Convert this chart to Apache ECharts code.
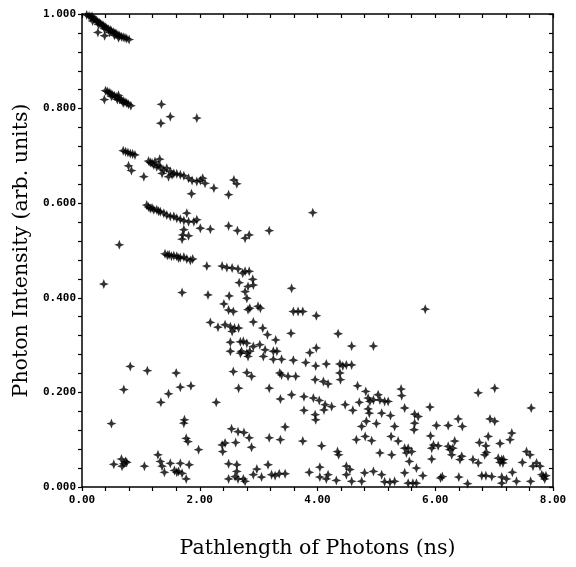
<!DOCTYPE html>
<html>
<head>
<meta charset="utf-8">
<script src="https://cdn.jsdelivr.net/npm/echarts@6/dist/echarts.min.js"></script>
<style>html,body{margin:0;padding:0;background:#fff}#c{width:576px;height:567px}</style>
</head>
<body>
<div id="c"></div>
<script>
// Axis settings / labels
const xTitle = "Pathlength of Photons (ns)";
const yTitle = "Photon Intensity (arb. units)";
const xRange = [0, 8];
const yRange = [0, 1];

// Data clusters: [pathlength (ns), intensity]
const band1 = [[0.08,0.998],[0.12,0.996],[0.15,0.993],[0.17,0.995],[0.18,0.985],[0.20,0.990],[0.22,0.988],[0.25,0.986],[0.27,0.983],[0.28,0.978],[0.30,0.981],[0.32,0.979],[0.35,0.976],[0.37,0.975],[0.38,0.969],[0.40,0.972],[0.42,0.970],[0.45,0.968],[0.47,0.961],[0.48,0.966],[0.50,0.964],[0.53,0.962],[0.55,0.955],[0.56,0.960],[0.58,0.958],[0.61,0.956],[0.62,0.950],[0.64,0.954],[0.67,0.952],[0.70,0.951],[0.73,0.950],[0.76,0.948],[0.80,0.946],[0.27,0.961],[0.385,0.954]];
const band2 = [[0.40,0.838],[0.43,0.836],[0.46,0.834],[0.49,0.832],[0.50,0.826],[0.52,0.829],[0.55,0.827],[0.58,0.825],[0.60,0.819],[0.61,0.823],[0.62,0.828],[0.64,0.820],[0.67,0.818],[0.70,0.816],[0.70,0.812],[0.73,0.814],[0.76,0.812],[0.79,0.809],[0.83,0.806],[0.38,0.819],[1.35,0.809],[1.50,0.783],[1.34,0.769],[1.95,0.780]];
const band3 = [[0.70,0.711],[0.74,0.709],[0.78,0.707],[0.82,0.705],[0.86,0.704],[0.90,0.702],[0.79,0.679],[0.84,0.669],[1.05,0.656]];
const band4 = [[1.13,0.689],[1.16,0.686],[1.19,0.685],[1.22,0.681],[1.24,0.688],[1.27,0.677],[1.30,0.680],[1.32,0.693],[1.33,0.676],[1.36,0.663],[1.39,0.670],[1.44,0.674],[1.47,0.656],[1.50,0.667],[1.53,0.660],[1.56,0.663],[1.61,0.662],[1.67,0.660],[1.73,0.658],[1.81,0.653],[1.87,0.648],[1.95,0.646],[2.01,0.648],[2.05,0.653],[2.09,0.642],[2.24,0.632],[1.86,0.620],[2.49,0.618],[2.58,0.649],[2.63,0.641]];
const band5 = [[1.10,0.596],[1.13,0.592],[1.16,0.589],[1.19,0.590],[1.22,0.586],[1.27,0.586],[1.30,0.583],[1.33,0.582],[1.39,0.579],[1.44,0.575],[1.50,0.572],[1.56,0.572],[1.61,0.568],[1.67,0.566],[1.73,0.563],[1.81,0.561],[1.90,0.561],[1.95,0.565],[1.78,0.579],[2.01,0.547],[2.18,0.545],[1.73,0.544],[1.71,0.533],[1.70,0.524],[1.81,0.531],[2.49,0.552],[2.64,0.542],[2.77,0.526],[2.84,0.533],[3.18,0.542],[0.634,0.512],[3.92,0.580]];
const band6 = [[1.41,0.493],[1.45,0.490],[1.48,0.491],[1.52,0.488],[1.56,0.489],[1.61,0.488],[1.64,0.484],[1.67,0.485],[1.73,0.486],[1.78,0.482],[1.84,0.479],[1.88,0.482]];
const midScatter = [[2.12,0.467],[2.38,0.467],[2.46,0.464],[2.55,0.463],[2.65,0.461],[2.73,0.452],[2.77,0.456],[2.84,0.456],[0.37,0.429],[1.70,0.411],[2.14,0.406],[2.50,0.404],[2.41,0.387],[2.49,0.374],[2.57,0.371],[2.67,0.432],[2.90,0.439],[2.91,0.427],[2.82,0.424],[2.77,0.413],[2.80,0.399],[2.82,0.375],[2.85,0.378],[2.99,0.382],[3.03,0.378],[3.56,0.420],[3.59,0.371],[3.67,0.371],[3.75,0.371],[3.98,0.362],[5.83,0.376],[2.91,0.349],[2.18,0.348]];
const lowerLeft = [[2.31,0.338],[2.43,0.343],[2.52,0.339],[2.59,0.336],[2.66,0.336],[2.55,0.329],[2.52,0.306],[2.52,0.287],[2.69,0.307],[2.69,0.283],[0.82,0.255],[1.11,0.246],[1.60,0.241],[0.71,0.206],[1.47,0.197],[1.67,0.211],[1.85,0.214],[1.34,0.179],[2.28,0.179],[2.57,0.244],[2.66,0.209],[0.50,0.134],[1.74,0.142],[1.73,0.135],[1.77,0.103],[1.80,0.096],[1.98,0.079],[2.38,0.089],[2.43,0.093],[2.39,0.075],[1.29,0.068],[0.54,0.048],[0.67,0.059],[0.71,0.049],[0.76,0.052],[0.68,0.044],[0.74,0.054],[1.06,0.044],[1.33,0.054],[1.36,0.044],[1.40,0.031],[1.50,0.050],[1.57,0.035],[1.64,0.033],[1.67,0.050],[1.70,0.029],[1.61,0.031],[1.82,0.047],[1.77,0.017],[2.49,0.049],[2.49,0.017]];
const lowerMid = [[2.74,0.308],[2.80,0.304],[2.71,0.287],[2.80,0.283],[2.85,0.287],[2.82,0.276],[2.91,0.297],[3.02,0.301],[3.11,0.290],[3.08,0.276],[3.25,0.287],[3.31,0.287],[3.07,0.336],[3.15,0.322],[3.29,0.311],[3.55,0.325],[4.35,0.324],[4.58,0.298],[4.95,0.298],[3.25,0.270],[3.39,0.270],[3.59,0.268],[3.87,0.284],[3.98,0.294],[3.80,0.263],[3.97,0.256],[4.15,0.260],[4.38,0.260],[4.43,0.256],[4.49,0.258],[4.58,0.258],[2.80,0.242],[2.88,0.234],[3.36,0.241],[3.39,0.237],[3.50,0.234],[3.63,0.234],[3.96,0.227],[4.10,0.223],[4.18,0.218],[4.38,0.241],[4.39,0.227],[3.18,0.209],[4.68,0.214],[4.82,0.202],[3.37,0.186],[3.56,0.195],[3.77,0.191],[3.93,0.188],[4.03,0.183],[4.13,0.174],[4.24,0.170],[3.77,0.162],[3.96,0.153],[3.97,0.142],[4.11,0.163],[4.47,0.174],[4.60,0.162],[4.71,0.179],[4.86,0.188],[4.89,0.181],[4.95,0.184],[5.03,0.195],[4.86,0.165],[4.88,0.156],[4.83,0.139],[4.75,0.128],[5.00,0.134],[4.81,0.107],[4.66,0.100],[4.92,0.098],[3.45,0.127],[2.54,0.123],[2.65,0.117],[2.75,0.115],[2.84,0.104],[2.61,0.094],[2.88,0.084],[3.18,0.104],[3.37,0.100],[3.75,0.097],[4.07,0.087],[4.34,0.075],[4.36,0.068],[2.63,0.047],[2.63,0.033],[2.60,0.022],[2.65,0.017],[2.74,0.017],[2.77,0.012],[2.97,0.038],[2.91,0.026],[3.05,0.021],[3.16,0.047],[3.22,0.026],[3.28,0.024],[3.35,0.028],[3.45,0.028],[3.86,0.031],[4.04,0.042],[4.04,0.021],[4.15,0.017],[4.18,0.026],[4.32,0.014],[4.49,0.044],[4.55,0.037],[4.49,0.026],[4.58,0.012],[4.75,0.012],[4.80,0.030],[4.95,0.033]];
const lowerRight = [[5.06,0.184],[5.14,0.181],[5.20,0.181],[5.09,0.156],[5.24,0.151],[5.31,0.128],[5.25,0.107],[5.37,0.097],[5.26,0.068],[5.06,0.072],[5.42,0.207],[5.43,0.193],[5.48,0.167],[5.65,0.154],[5.71,0.149],[5.65,0.135],[5.64,0.121],[5.48,0.082],[5.54,0.082],[5.60,0.075],[5.51,0.072],[5.56,0.054],[5.68,0.040],[5.48,0.030],[5.09,0.026],[5.14,0.011],[5.23,0.010],[5.31,0.012],[5.54,0.008],[5.62,0.008],[5.68,0.008],[5.79,0.024],[5.91,0.169],[5.92,0.108],[5.97,0.089],[5.94,0.082],[6.05,0.087],[5.94,0.059],[6.02,0.130],[6.22,0.130],[6.09,0.019],[6.12,0.022],[6.22,0.086],[6.25,0.079],[6.28,0.068],[6.33,0.097],[6.30,0.082],[6.45,0.065],[6.39,0.144],[6.46,0.128],[6.40,0.021],[6.55,0.007],[6.42,0.058],[6.64,0.058],[6.73,0.051],[6.73,0.199],[7.01,0.209],[6.75,0.094],[6.86,0.087],[6.87,0.073],[6.84,0.068],[6.90,0.107],[6.93,0.144],[7.01,0.139],[6.79,0.024],[6.86,0.024],[6.96,0.022],[7.10,0.092],[7.07,0.061],[7.13,0.058],[7.15,0.051],[7.10,0.052],[7.16,0.058],[7.13,0.021],[7.13,0.008],[7.21,0.017],[7.30,0.114],[7.27,0.100],[7.31,0.031],[7.38,0.012],[7.48,0.052],[7.55,0.075],[7.61,0.068],[7.63,0.167],[7.62,0.012],[7.66,0.044],[7.72,0.051],[7.78,0.044],[7.81,0.026],[7.84,0.022],[7.86,0.017],[7.88,0.024]];

const points = [].concat(band1, band2, band3, band4, band5, band6, midScatter, lowerLeft, lowerMid, lowerRight);

const star = 'path://M5,0 L6.4,3.6 L10,5 L6.4,6.4 L5,10 L3.6,6.4 L0,5 L3.6,3.6 Z';
const monoFont = '"DejaVu Sans Mono", "Liberation Mono", monospace';
const serifFont = '"DejaVu Serif", "Liberation Serif", serif';
const ink = '#000';

function xFmt(v){ const r = Math.round(v*100)/100; return (Math.abs(r/2 - Math.round(r/2)) < 1e-6) ? r.toFixed(2) : ''; }
function yFmt(v){ const r = Math.round(v*1000)/1000; return (Math.abs(r/0.2 - Math.round(r/0.2)) < 1e-6) ? r.toFixed(3) : ''; }

const axisLine = {show:true, onZero:false, lineStyle:{color:ink, width:1.5}};
const chart = echarts.init(document.getElementById('c'), null, {renderer:'canvas'});
chart.setOption({
  animation:false,
  backgroundColor:'#fff',
  grid:{left:82, right:23, top:14, bottom:80, containLabel:false},
  xAxis:[
    {type:'value', position:'bottom', min:xRange[0], max:xRange[1], interval:0.4,
     axisLine:axisLine, axisTick:{show:true, inside:false, length:4, lineStyle:{color:ink, width:1.2}},
     splitLine:{show:false},
     axisLabel:{formatter:xFmt, fontFamily:monoFont, fontWeight:'bold', fontSize:11, color:ink, margin:8, showMinLabel:true, showMaxLabel:true},
     name:xTitle, nameLocation:'middle', nameGap:51,
     nameTextStyle:{fontFamily:serifFont, fontSize:20.5, color:ink}},
    {type:'value', position:'top', min:xRange[0], max:xRange[1], interval:0.4,
     axisLine:axisLine, axisTick:{show:true, inside:true, length:4, lineStyle:{color:ink, width:1.2}},
     axisLabel:{show:false}, splitLine:{show:false}}
  ],
  yAxis:[
    {type:'value', position:'left', min:yRange[0], max:yRange[1], interval:0.04,
     axisLine:axisLine, axisTick:{show:true, inside:false, length:4, lineStyle:{color:ink, width:1.2}},
     splitLine:{show:false},
     axisLabel:{formatter:yFmt, fontFamily:monoFont, fontWeight:'bold', fontSize:11, color:ink, margin:6},
     name:yTitle, nameLocation:'middle', nameGap:40,
     nameTextStyle:{fontFamily:serifFont, fontSize:20.5, color:ink}},
    {type:'value', position:'right', min:yRange[0], max:yRange[1], interval:0.04,
     axisLine:axisLine, axisTick:{show:true, inside:true, length:4, lineStyle:{color:ink, width:1.2}},
     axisLabel:{show:false}, splitLine:{show:false}}
  ],
  series:[{
    type:'scatter', xAxisIndex:0, yAxisIndex:0,
    data:points, symbol:star, symbolSize:10,
    itemStyle:{color:ink}
  }]
});
</script>
</body>
</html>
